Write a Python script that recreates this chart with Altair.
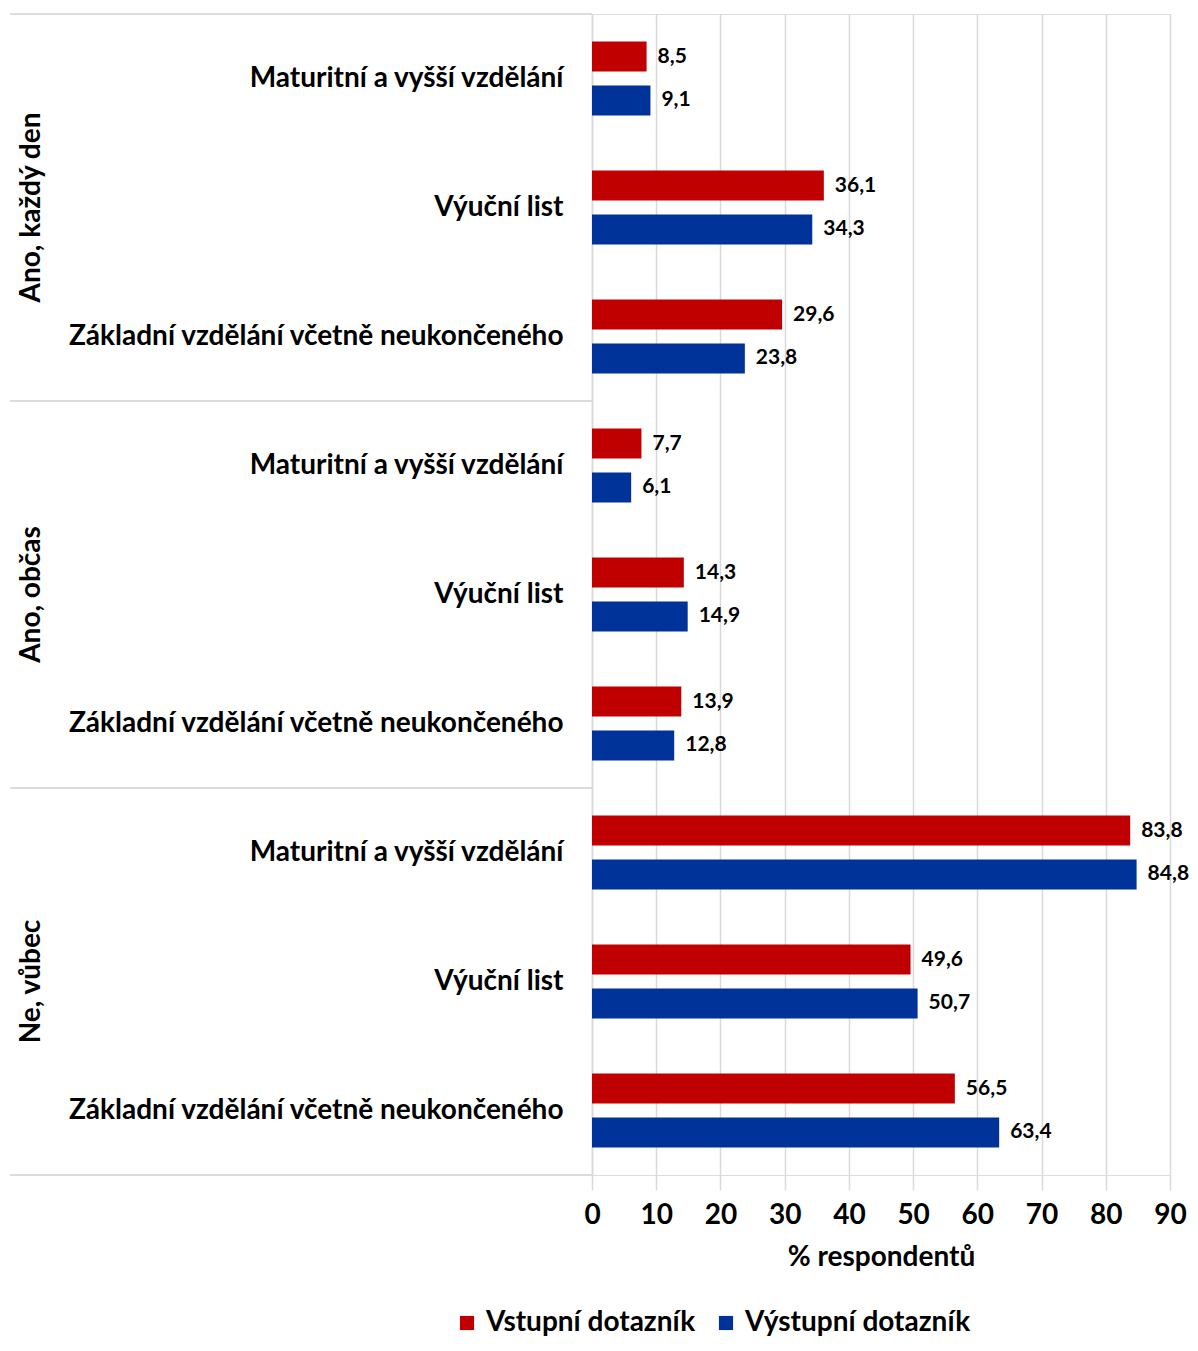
import altair as alt
import pandas as pd

groups = ["Ano, každý den", "Ano, občas", "Ne, vůbec"]
categories = ["Maturitní a vyšší vzdělání", "Výuční list", "Základní vzdělání včetně neukončeného"]
series = ["Vstupní dotazník", "Výstupní dotazník"]
colors = ["#C00000", "#003399"]

vstupni = [8.5, 36.1, 29.6, 7.7, 14.3, 13.9, 83.8, 49.6, 56.5]
vystupni = [9.1, 34.3, 23.8, 6.1, 14.9, 12.8, 84.8, 50.7, 63.4]

FONT = "Lato"

keys = [f"{gi}|{c}" for gi in range(len(groups)) for c in categories]

rows = []
for i, k in enumerate(keys):
    rows.append({"key": k, "series": series[0], "value": vstupni[i]})
    rows.append({"key": k, "series": series[1], "value": vystupni[i]})
df = pd.DataFrame(rows)

grp_df = pd.DataFrame({
    "group": groups,
    "key": [f"{gi}|{categories[1]}" for gi in range(len(groups))],
})
sep_top = pd.DataFrame({"key": [f"{gi}|{categories[0]}" for gi in range(len(groups))]})
sep_bot = pd.DataFrame({"key": [f"{len(groups)-1}|{categories[-1]}"]})

yscale = alt.Scale(domain=keys, paddingInner=0, paddingOuter=0)

y_enc = alt.Y(
    "key:N",
    scale=yscale,
    sort=keys,
    axis=alt.Axis(
        title=None,
        ticks=False,
        labelExpr="split(datum.label, '|')[1]",
        labelFont=FONT,
        labelFontWeight="bold",
        labelFontSize=28,
        labelColor="#000000",
        labelPadding=29,
        labelLimit=600,
        domainColor="#d9d9d9",
        domainWidth=1.5,
        grid=False,
    ),
)

x_enc = alt.X(
    "value:Q",
    scale=alt.Scale(domain=[0, 90], nice=False),
    axis=alt.Axis(
        title="% respondentů",
        values=list(range(0, 91, 10)),
        grid=True,
        gridColor="#d9d9d9",
        gridWidth=1.5,
        domain=False,
        ticks=True,
        tickSize=15,
        tickColor="#d9d9d9",
        tickWidth=1.5,
        labelFlush=False,
        labelFont=FONT,
        labelFontWeight="bold",
        labelFontSize=28,
        labelColor="#000000",
        labelPadding=11,
        titleFont=FONT,
        titleFontWeight="bold",
        titleFontSize=28,
        titleColor="#000000",
        titlePadding=14,
    ),
)

base = alt.Chart(df)

bars = base.mark_bar().encode(
    x=x_enc,
    y=y_enc,
    yOffset=alt.YOffset("series:N", sort=series,
                        scale=alt.Scale(domain=series, paddingInner=0.318, paddingOuter=0.625)),
    color=alt.Color(
        "series:N",
        scale=alt.Scale(domain=series, range=colors),
        legend=alt.Legend(
            title=None,
            orient="none",
            direction="horizontal",
            legendX=-139,
            legendY=1295,
            symbolType="square",
            symbolSize=200,
            symbolStrokeWidth=0,
            labelFont=FONT,
            labelFontWeight="bold",
            labelFontSize=28,
            labelColor="#000000",
            columnPadding=16,
            labelOffset=5,
            labelLimit=400,
        ),
    ),
)

labels = base.mark_text(
    align="left", baseline="middle", dx=11, font=FONT, fontWeight="bold", fontSize=21, color="#000000"
).transform_calculate(
    lbl="replace(format(datum.value, '.1f'), '.', ',')"
).encode(
    x="value:Q",
    y=alt.Y("key:N", sort=keys),
    yOffset=alt.YOffset("series:N", sort=series),
    text="lbl:N",
)

grp_text = alt.Chart(grp_df).mark_text(
    angle=270, align="center", baseline="middle", font=FONT, fontWeight="bold", fontSize=28, color="#000000"
).encode(
    x=alt.value(-560),
    y=alt.Y("key:N", sort=keys),
    text="group:N",
)

rule_top = alt.Chart(sep_top).mark_rule(color="#d0d0d0", strokeWidth=1.5).encode(
    x=alt.value(-582),
    x2=alt.value(0),
    y=alt.Y("key:N", sort=keys, bandPosition=0),
)
rule_bot = alt.Chart(sep_bot).mark_rule(color="#d0d0d0", strokeWidth=1.5).encode(
    x=alt.value(-582),
    x2=alt.value(0),
    y=alt.Y("key:N", sort=keys, bandPosition=1),
)

chart = alt.layer(rule_top, rule_bot, bars, labels, grp_text).properties(
    width=578,
    height=1161,
    autosize=alt.AutoSizeParams(type="none"),
    padding={"left": 584, "top": 6, "right": 20, "bottom": 165},
).configure_view(stroke=None).configure(background="white")

chart.save("out.html", embed_options={"renderer": "svg", "actions": False})
